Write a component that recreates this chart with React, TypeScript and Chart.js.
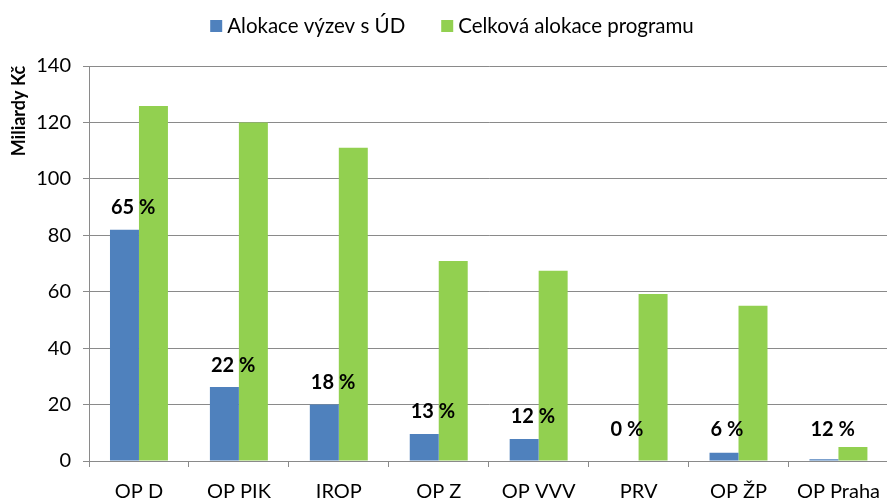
import React, { useEffect, useRef } from "react";
import { Chart, registerables } from "chart.js";

Chart.register(...registerables);

// ---- data ----
const categories = ["OP D", "OP PIK", "IROP", "OP Z", "OP VVV", "PRV", "OP ŽP", "OP Praha"];
const callAllocation = [82, 26.2, 20, 9.6, 7.8, 0, 2.9, 0.6];
const totalAllocation = [125.8, 120, 111, 70.9, 67.4, 59.2, 55, 5];
const shareLabels = ["65 %", "22 %", "18 %", "13 %", "12 %", "0 %", "6 %", "12 %"];
const seriesNames = ["Alokace výzev s ÚD", "Celková alokace programu"];
const axisTitle = "Miliardy Kč";
const yMin = 0;
const yMax = 140;
const yStep = 20;

const BLUE = "#4F81BD";
const GREEN = "#92D050";
const GRID = "#8a8a8a";
const FONT = "Lato, 'Open Sans', sans-serif";

const overlayPlugin = {
  id: "overlay",
  afterDatasetsDraw(chart: any) {
    const ctx = chart.ctx;
    const yScale = chart.scales.y;
    ctx.save();
    // data labels
    ctx.font = `bold 20px ${FONT}`;
    ctx.fillStyle = "#000";
    ctx.textBaseline = "middle";
    ctx.textAlign = "left";
    const meta = chart.getDatasetMeta(0);
    meta.data.forEach((bar: any, i: number) => {
      const x = bar.x - bar.width / 2 + 1;
      const y = Math.min(bar.y - 22, yScale.getPixelForValue(0) - 31);
      ctx.fillText(shareLabels[i], x, y);
    });

    // legend
    ctx.font = `20.5px ${FONT}`;
    ctx.textBaseline = "middle";
    const sq = 12;
    const gap = 5;
    const spacing = 36;
    const w1 = ctx.measureText(seriesNames[0]).width;
    const w2 = ctx.measureText(seriesNames[1]).width;
    const total = sq + gap + w1 + spacing + sq + gap + w2;
    let x = 452 - total / 2;
    const ly = 26;
    ctx.fillStyle = BLUE;
    ctx.fillRect(x, ly - sq / 2, sq, sq);
    x += sq + gap;
    ctx.fillStyle = "#000";
    ctx.fillText(seriesNames[0], x, ly);
    x += w1 + spacing;
    ctx.fillStyle = GREEN;
    ctx.fillRect(x, ly - sq / 2, sq, sq);
    x += sq + gap;
    ctx.fillStyle = "#000";
    ctx.fillText(seriesNames[1], x, ly);

    // axis title
    ctx.translate(19, 111);
    ctx.rotate(-Math.PI / 2);
    ctx.font = `bold 18px ${FONT}`;
    ctx.textAlign = "center";
    ctx.textBaseline = "middle";
    ctx.fillText(axisTitle, 0, 0);
    ctx.restore();
  },
};

export default function App() {
  const ref = useRef<HTMLCanvasElement | null>(null);

  useEffect(() => {
    if (!ref.current) return;
    const chart = new Chart(ref.current, {
      type: "bar",
      data: {
        labels: categories,
        datasets: [
          {
            label: seriesNames[0],
            data: callAllocation,
            backgroundColor: BLUE,
            categoryPercentage: 0.58,
            barPercentage: 1,
          },
          {
            label: seriesNames[1],
            data: totalAllocation,
            backgroundColor: GREEN,
            categoryPercentage: 0.58,
            barPercentage: 1,
          },
        ],
      },
      options: {
        responsive: false,
        animation: false,
        devicePixelRatio: 1,
        layout: { padding: { top: 66, left: 0, right: 0, bottom: 0 } },
        plugins: {
          legend: { display: false },
          tooltip: { enabled: false },
        },
        scales: {
          x: {
            offset: true,
            grid: {
              display: true,
              offset: true,
              drawOnChartArea: false,
              drawTicks: true,
              tickLength: 6,
              color: GRID,
            },
            border: { display: true, color: GRID },
            ticks: {
              color: "#000",
              font: { family: FONT, size: 20 },
              padding: 13,
              maxRotation: 0,
              autoSkip: false,
            },
            afterFit(scale: any) {
              scale.height = 38;
            },
          },
          y: {
            min: yMin,
            max: yMax,
            ticks: {
              stepSize: yStep,
              color: "#000",
              font: { family: FONT, size: 20 },
              padding: 12,
            },
            grid: {
              color: GRID,
              tickLength: 6,
              drawTicks: true,
            },
            border: { display: true, color: GRID },
            afterFit(scale: any) {
              scale.width = 89;
            },
          },
        },
      },
      plugins: [overlayPlugin],
    });
    return () => chart.destroy();
  }, []);

  return (
    <div
      style={{
        position: "fixed",
        left: 0,
        top: 0,
        width: 887,
        height: 499,
        overflow: "hidden",
        background: "#fff",
      }}
    >
      <canvas ref={ref} width={893} height={499} style={{ display: "block" }} />
    </div>
  );
}
